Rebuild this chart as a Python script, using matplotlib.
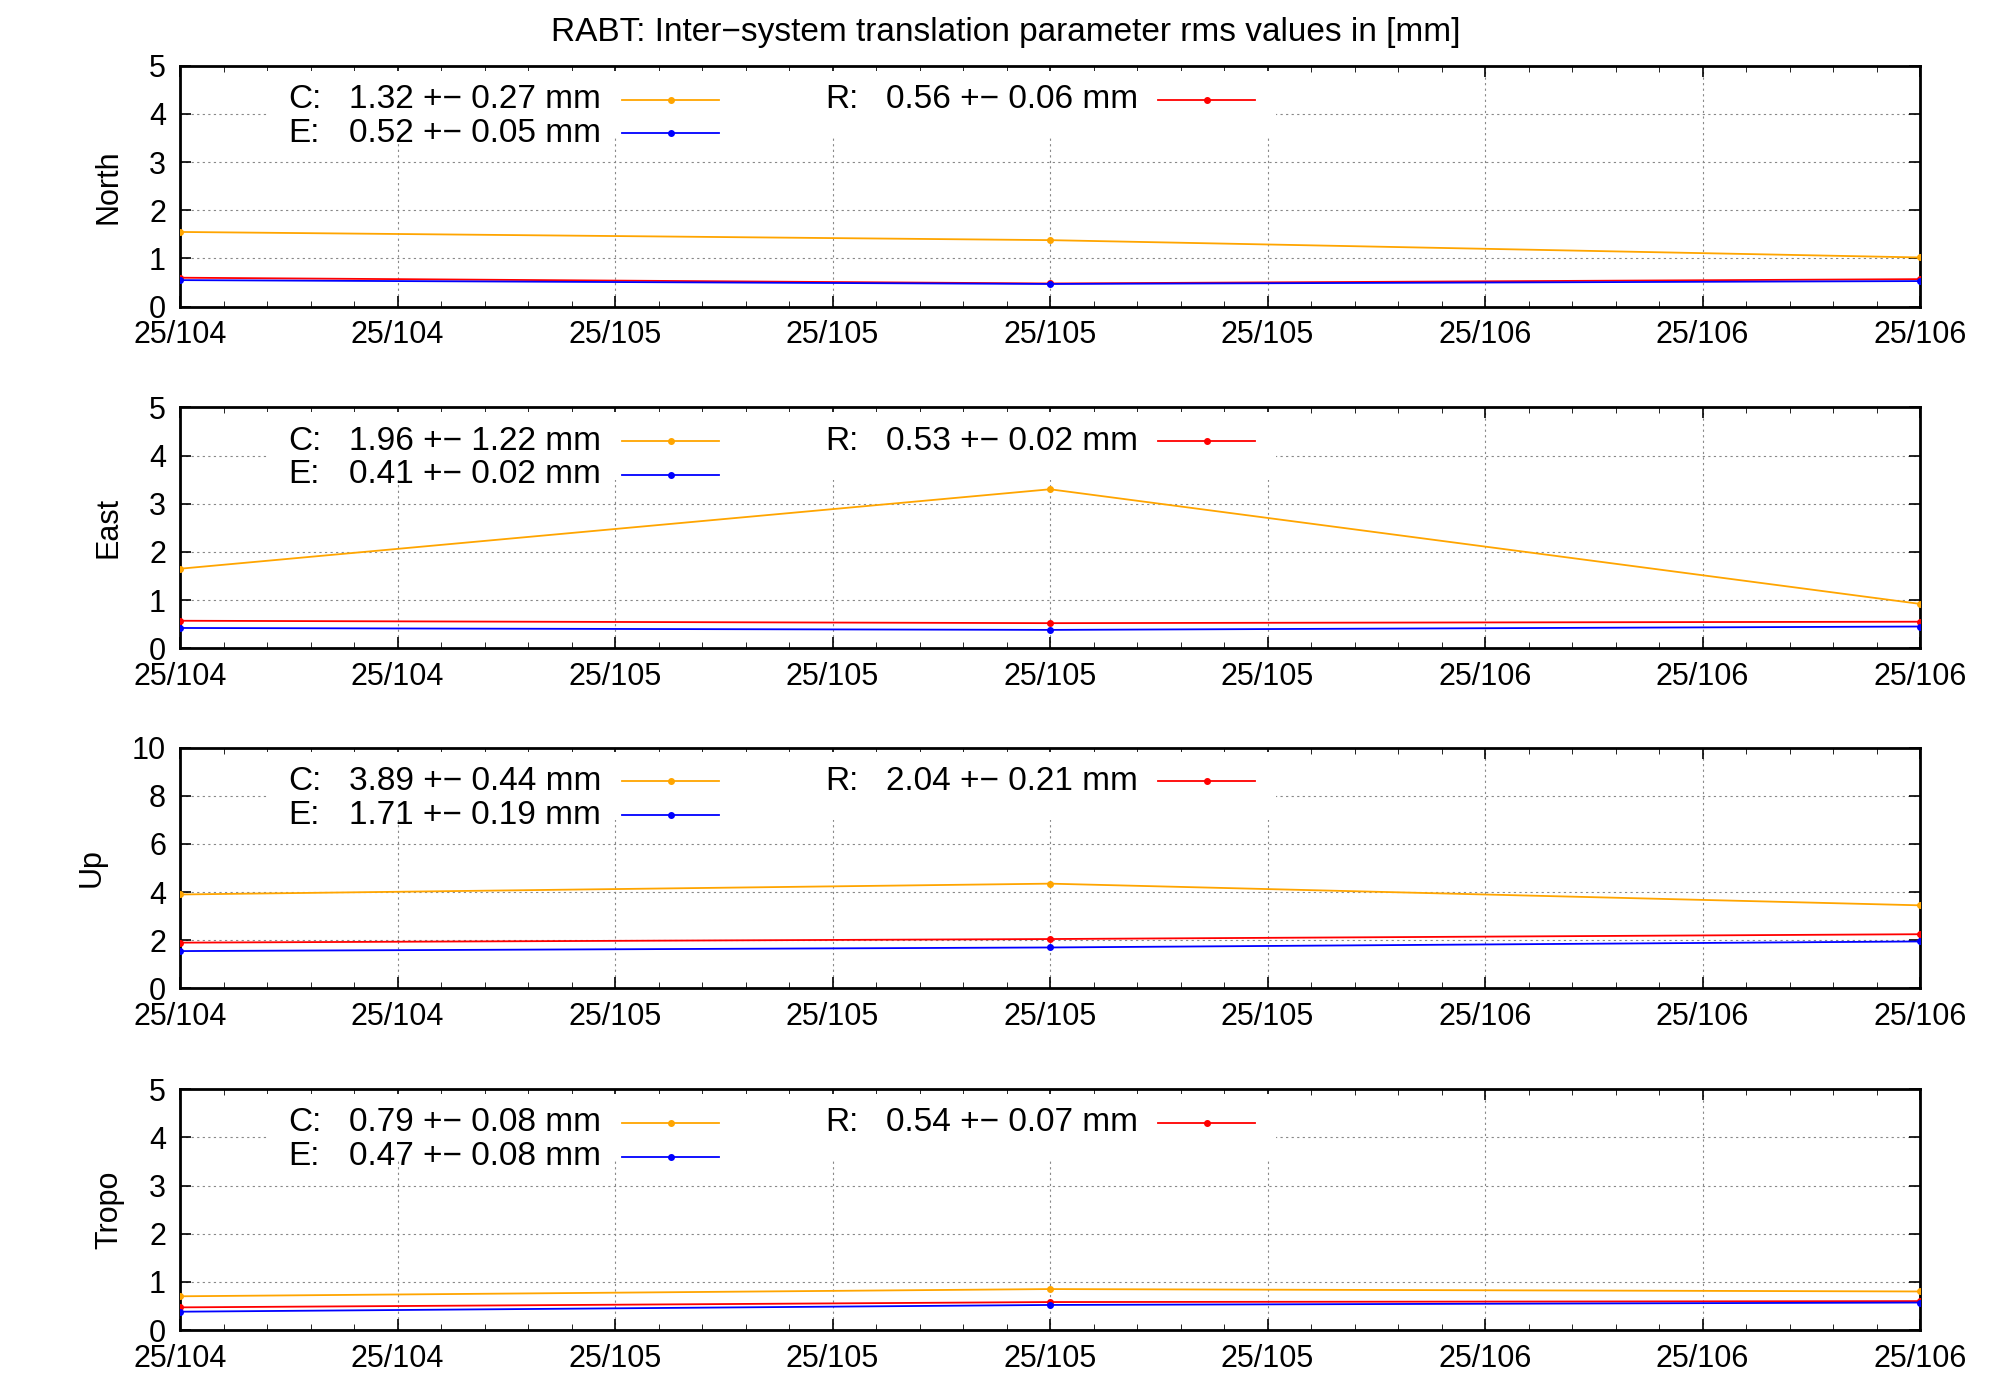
import matplotlib
matplotlib.use("Agg")
import matplotlib.pyplot as plt
from matplotlib.patches import Rectangle

title = "RABT: Inter\u2212system translation parameter rms values in [mm]"
days = [104.5, 105.5, 106.5]
tick_pos = [104.5, 104.75, 105.0, 105.25, 105.5, 105.75, 106.0, 106.25, 106.5]
tick_labels = ["25/104", "25/104", "25/105", "25/105", "25/105", "25/105", "25/106", "25/106", "25/106"]

panels = ["North", "East", "Up", "Tropo"]
ymax = [5, 5, 10, 5]
yticks = [[0, 1, 2, 3, 4, 5], [0, 1, 2, 3, 4, 5], [0, 2, 4, 6, 8, 10], [0, 1, 2, 3, 4, 5]]

C_vals = [[1.55, 1.38, 1.02], [1.65, 3.30, 0.92], [3.90, 4.35, 3.45], [0.70, 0.85, 0.80]]
R_vals = [[0.60, 0.48, 0.57], [0.57, 0.52, 0.55], [1.90, 2.05, 2.25], [0.47, 0.58, 0.60]]
E_vals = [[0.55, 0.47, 0.53], [0.42, 0.38, 0.45], [1.55, 1.70, 1.95], [0.38, 0.52, 0.57]]

C_lab = ["1.32 +\u2212 0.27 mm", "1.96 +\u2212 1.22 mm", "3.89 +\u2212 0.44 mm", "0.79 +\u2212 0.08 mm"]
R_lab = ["0.56 +\u2212 0.06 mm", "0.53 +\u2212 0.02 mm", "2.04 +\u2212 0.21 mm", "0.54 +\u2212 0.07 mm"]
E_lab = ["0.52 +\u2212 0.05 mm", "0.41 +\u2212 0.02 mm", "1.71 +\u2212 0.19 mm", "0.47 +\u2212 0.08 mm"]

colors = {"C": "#ffa500", "R": "#ff0000", "E": "#0000ff"}

plt.rcParams["font.family"] = "Liberation Sans"
fig = plt.figure(figsize=(20, 14), dpi=100)
fig.text(0.503, 0.977, title, ha="center", va="center", fontsize=24)

bottoms = [0.781, 0.537, 0.294, 0.050]
for i in range(4):
    ax = fig.add_axes([0.09, bottoms[i], 0.87, 0.172])
    ax.set_xlim(days[0], days[-1])
    ax.set_ylim(0, ymax[i])
    ax.set_xticks(tick_pos)
    ax.set_xticklabels(tick_labels, fontsize=22)
    ax.set_yticks(yticks[i])
    ax.set_yticklabels([str(v) for v in yticks[i]], fontsize=22)
    ax.grid(True, linestyle=(0, (2, 3)), color="#888888", linewidth=0.8)
    ax.tick_params(direction="in", length=8, width=1.2, top=True, right=True, pad=10)
    ax.minorticks_on()
    ax.tick_params(which="minor", direction="in", length=4, top=True, right=True)
    ax.yaxis.set_minor_locator(matplotlib.ticker.NullLocator())
    for s in ax.spines.values():
        s.set_linewidth(2)
    ax.set_ylabel(panels[i], fontsize=22, labelpad=18)
    for key, vals in (("C", C_vals[i]), ("R", R_vals[i]), ("E", E_vals[i])):
        ax.plot(days, vals, color=colors[key], marker="o", markersize=4, linewidth=1.3, zorder=3)
    ax.add_patch(Rectangle((0.05, 0.70), 0.58, 0.28, transform=ax.transAxes,
                           facecolor="white", edgecolor="none", zorder=2.5))
    entries = [("C:", C_lab[i], "C", 0.062, 0.097, 0.254, 0.86),
               ("E:", E_lab[i], "E", 0.062, 0.097, 0.254, 0.72),
               ("R:", R_lab[i], "R", 0.371, 0.406, 0.562, 0.86)]
    for k, lab, key, xk, xl, xline, y0 in entries:
        ax.text(xk, y0, k, transform=ax.transAxes, fontsize=24, va="center", zorder=4)
        ax.text(xl, y0, lab, transform=ax.transAxes, fontsize=24, va="center", zorder=4)
        ax.plot([xline, xline + 0.056], [y0, y0], transform=ax.transAxes,
                color=colors[key], linewidth=1.3, zorder=4)
        ax.plot([xline + 0.028], [y0], transform=ax.transAxes, marker="o",
                markersize=4, color=colors[key], zorder=4)

fig.savefig("out.png", dpi=100)
